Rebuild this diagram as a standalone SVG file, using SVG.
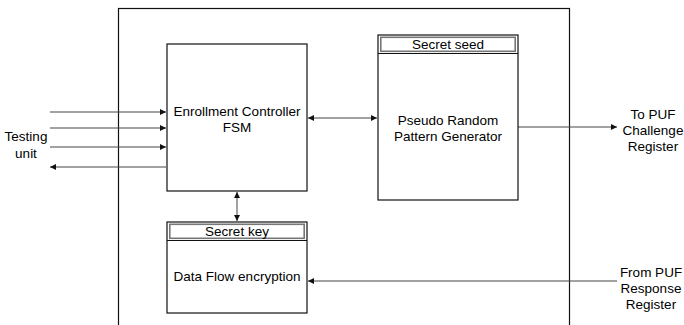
<svg xmlns="http://www.w3.org/2000/svg" width="684" height="325" viewBox="0 0 684 325">
<defs>
<marker id="ah" markerUnits="userSpaceOnUse" markerWidth="7" markerHeight="6" refX="6" refY="3" orient="auto-start-reverse">
<path d="M0,0 L6,3 L0,6 z" fill="#111"/>
</marker>
<style>
text{font-family:"Liberation Sans",Arial,sans-serif;font-size:13.5px;fill:#000;text-anchor:middle}
.box{fill:#fff;stroke:#111;stroke-width:1.2}
.hdr{fill:#fff;stroke:#777;stroke-width:1.6}
.sep{stroke:#111;stroke-width:1.2}
.ln{stroke:#444;stroke-width:1;fill:none}
.frame{fill:none;stroke:#111;stroke-width:1.2}
</style>
</defs>
<rect width="684" height="325" fill="#fff"/>
<rect class="frame" x="118.5" y="8.5" width="451" height="330"/>

<g id="connectors">
<line class="ln" x1="50" y1="112" x2="166" y2="112" marker-end="url(#ah)"/>
<line class="ln" x1="50" y1="128" x2="166" y2="128" marker-end="url(#ah)"/>
<line class="ln" x1="50" y1="147" x2="166" y2="147" marker-end="url(#ah)"/>
<line class="ln" x1="166" y1="167" x2="50" y2="167" marker-end="url(#ah)"/>
<line class="ln" x1="308" y1="118" x2="377" y2="118" marker-start="url(#ah)" marker-end="url(#ah)"/>
<line class="ln" x1="518" y1="127" x2="617" y2="127" marker-end="url(#ah)"/>
<line class="ln" x1="237" y1="192" x2="237" y2="221" marker-start="url(#ah)" marker-end="url(#ah)"/>
<line class="ln" x1="617" y1="281" x2="308" y2="281" marker-end="url(#ah)"/>
</g>

<g id="testing-unit">
<text x="26" y="141">Testing</text>
<text x="26" y="158">unit</text>
</g>

<g id="enrollment-controller">
<rect class="box" x="167" y="44" width="140" height="147"/>
<text x="237" y="116">Enrollment Controller</text>
<text x="237" y="132">FSM</text>
</g>

<g id="prng">
<rect class="box" x="378" y="35" width="140" height="165"/>
<line class="sep" x1="378" y1="53.5" x2="518" y2="53.5"/>
<rect class="hdr" x="380.8" y="37.3" width="134.4" height="14"/>
<text x="448" y="49">Secret seed</text>
<text x="448" y="125">Pseudo Random</text>
<text x="448" y="141">Pattern Generator</text>
</g>

<g id="data-flow-encryption">
<rect class="box" x="167" y="222" width="140" height="91"/>
<line class="sep" x1="167" y1="240.5" x2="307" y2="240.5"/>
<rect class="hdr" x="169.8" y="224.3" width="134.4" height="14"/>
<text x="237" y="236">Secret key</text>
<text x="237" y="281">Data Flow encryption</text>
</g>

<g id="puf-challenge">
<text x="653" y="119">To PUF</text>
<text x="653" y="135">Challenge</text>
<text x="653" y="151">Register</text>
</g>

<g id="puf-response">
<text x="651" y="277">From PUF</text>
<text x="651" y="293">Response</text>
<text x="651" y="309">Register</text>
</g>
</svg>
